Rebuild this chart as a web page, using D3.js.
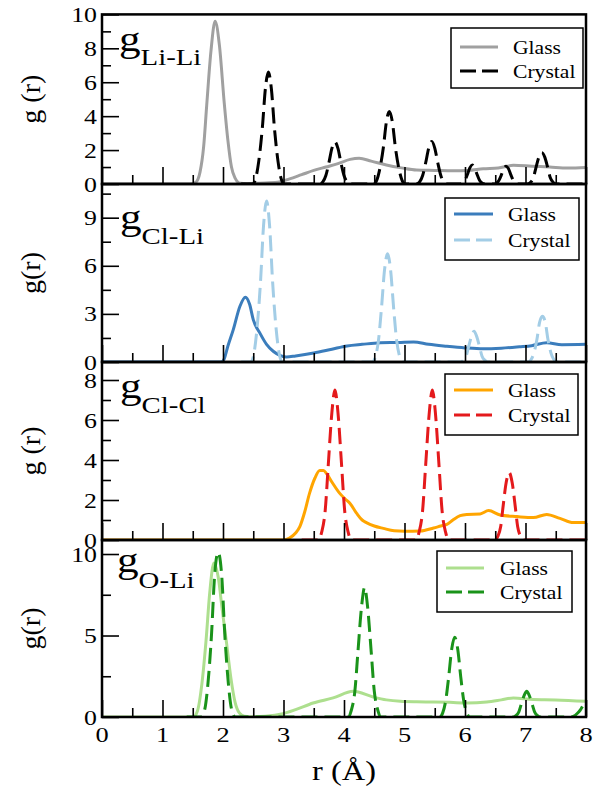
<!DOCTYPE html>
<html>
<head>
<meta charset="utf-8">
<script src="https://cdn.jsdelivr.net/npm/d3@7"></script>
<style>
  html, body { margin: 0; padding: 0; background: #fff; }
  svg text { font-family: "Liberation Serif", Tinos, "Times New Roman", Times, serif; fill: #000; }
</style>
</head>
<body>
<div id="chart-area"></div>
<script>
const WIDTH = 598;
const HEIGHT = 790;
const LEFT = 102;
const RIGHT = 586;
const SX = 1.2; // glyphs in the source are drawn a bit wide

// ---- data ----
const pairNames = ["Li-Li", "Cl-Li", "Cl-Cl", "O-Li"];
const yLabels = ["g (r)", "g(r)", "g (r)", "g(r)"];
const seriesNames = ["Glass", "Crystal"];
const xMajor = [0, 1, 2, 3, 4, 5, 6, 7, 8];
const xMinor = [0.5, 1.5, 2.5, 3.5, 4.5, 5.5, 6.5, 7.5];
const yMax = [10, 11.1, 8.9, 10.86];
const yMajor = [[0, 2, 4, 6, 8, 10], [0, 3, 6, 9], [0, 2, 4, 6, 8], [0, 5, 10]];
const yMinor = [[1, 3, 5, 7, 9], [1.5, 4.5, 7.5, 10.5], [1, 3, 5, 7], [2.5, 7.5]];

const liLiGlass = [[0, 0], [1.45, 0], [1.55, 0.1], [1.62, 0.7], [1.68, 2.2], [1.73, 4.6], [1.80, 7.8], [1.87, 9.6],
  [1.94, 8.2], [2.02, 4.8], [2.08, 2.6], [2.14, 1.0], [2.2, 0.35], [2.28, 0.05], [2.4, 0.02], [2.6, 0.05],
  [2.9, 0.1], [3.1, 0.3], [3.3, 0.55], [3.5, 0.8], [3.7, 1.0], [3.9, 1.2], [4.1, 1.45], [4.25, 1.52],
  [4.45, 1.35], [4.7, 1.12], [4.95, 0.95], [5.2, 0.82], [5.5, 0.8], [5.8, 0.78], [6.05, 0.8], [6.3, 0.9],
  [6.55, 0.95], [6.8, 1.1], [7.1, 1.05], [7.4, 1.0], [7.7, 0.95], [8.0, 0.98]];

const liLiCrystal = [[2.3, 0],
  [2.49, 0], [2.54, 0.33], [2.59, 1.32], [2.65, 3.3], [2.70, 5.6], [2.75, 6.6], [2.80, 5.6], [2.85, 3.3], [2.91, 1.32], [2.96, 0.33], [3.01, 0],
  [3.60, 0], [3.65, 0.12], [3.70, 0.5], [3.75, 1.24], [3.80, 2.1], [3.85, 2.48], [3.90, 2.1], [3.95, 1.24], [4.00, 0.5], [4.05, 0.12], [4.10, 0],
  [4.49, 0], [4.54, 0.21], [4.59, 0.86], [4.65, 2.14], [4.70, 3.64], [4.75, 4.28], [4.80, 3.64], [4.85, 2.14], [4.91, 0.86], [4.96, 0.21], [5.01, 0],
  [5.20, 0], [5.25, 0.12], [5.30, 0.5], [5.35, 1.25], [5.40, 2.12], [5.45, 2.5], [5.50, 2.12], [5.55, 1.25], [5.60, 0.5], [5.65, 0.12], [5.70, 0],
  [5.92, 0], [5.96, 0.06], [6.00, 0.22], [6.04, 0.56], [6.08, 0.95], [6.12, 1.12], [6.16, 0.95], [6.20, 0.56], [6.24, 0.22], [6.28, 0.06], [6.32, 0],
  [6.48, 0], [6.52, 0.05], [6.56, 0.21], [6.60, 0.52], [6.64, 0.89], [6.68, 1.05], [6.72, 0.89], [6.76, 0.52], [6.80, 0.21], [6.84, 0.05], [6.88, 0],
  [7.03, 0], [7.08, 0.09], [7.13, 0.37], [7.17, 0.92], [7.22, 1.57], [7.27, 1.85], [7.32, 1.57], [7.37, 0.92], [7.41, 0.37], [7.46, 0.09], [7.51, 0],
  [8.0, 0]];

const clLiGlass = [[0, 0], [1.97, 0], [2.02, 0.2], [2.08, 0.98], [2.17, 2.02], [2.28, 3.48], [2.37, 4.04], [2.44, 3.6],
  [2.5, 2.64], [2.61, 1.8], [2.72, 1.1], [2.83, 0.67], [2.95, 0.4], [3.05, 0.31], [3.2, 0.38], [3.5, 0.56],
  [3.8, 0.8], [4.05, 1.0], [4.3, 1.1], [4.6, 1.2], [4.9, 1.22], [5.15, 1.25], [5.4, 1.1], [5.7, 0.98],
  [6.0, 0.88], [6.3, 0.82], [6.6, 0.86], [6.9, 0.95], [7.1, 1.02], [7.35, 1.2], [7.6, 1.08], [8.0, 1.1]];

const clLiCrystal = [[2.3, 0],
  [2.46, 0], [2.51, 0.5], [2.56, 2.0], [2.62, 5.0], [2.67, 8.5], [2.72, 10.04], [2.77, 8.5], [2.82, 5.0], [2.88, 2.0], [2.93, 0.5], [2.98, 0],
  [4.47, 0], [4.52, 0.34], [4.57, 1.35], [4.62, 3.38], [4.67, 5.74], [4.72, 6.75], [4.77, 5.74], [4.82, 3.38], [4.87, 1.35], [4.92, 0.34], [4.97, 0],
  [5.93, 0], [5.97, 0.1], [6.02, 0.38], [6.06, 0.96], [6.11, 1.63], [6.15, 1.92], [6.19, 1.63], [6.24, 0.96], [6.28, 0.38], [6.33, 0.1], [6.37, 0],
  [7.05, 0], [7.09, 0.14], [7.14, 0.57], [7.19, 1.43], [7.23, 2.42], [7.28, 2.85], [7.33, 2.42], [7.37, 1.43], [7.42, 0.57], [7.47, 0.14], [7.51, 0],
  [8.0, 0]];

const clClGlass = [[0, 0], [3.0, 0], [3.1, 0.1], [3.2, 0.35], [3.27, 0.67], [3.35, 1.4], [3.43, 2.33], [3.52, 3.1],
  [3.6, 3.47], [3.66, 3.47], [3.71, 3.33], [3.8, 2.9], [3.93, 2.33], [4.02, 2.05], [4.1, 1.83], [4.21, 1.33],
  [4.3, 1.0], [4.37, 0.87], [4.5, 0.7], [4.65, 0.58], [4.83, 0.46], [5.0, 0.44], [5.26, 0.45], [5.48, 0.6],
  [5.6, 0.7], [5.7, 0.78], [5.8, 1.0], [5.92, 1.22], [6.03, 1.28], [6.25, 1.3], [6.39, 1.47], [6.58, 1.25],
  [6.86, 1.17], [7.13, 1.12], [7.35, 1.28], [7.57, 1.08], [7.79, 0.87], [8.0, 0.88]];

const clClCrystal = [[3.3, 0],
  [3.58, 0], [3.63, 0.38], [3.69, 1.5], [3.74, 3.75], [3.80, 6.38], [3.85, 7.5], [3.90, 6.38], [3.96, 3.75], [4.01, 1.5], [4.07, 0.38], [4.12, 0],
  [5.19, 0], [5.24, 0.38], [5.30, 1.5], [5.35, 3.75], [5.41, 6.38], [5.46, 7.5], [5.51, 6.38], [5.57, 3.75], [5.62, 1.5], [5.68, 0.38], [5.73, 0],
  [6.49, 0], [6.54, 0.17], [6.59, 0.67], [6.63, 1.69], [6.68, 2.86], [6.73, 3.37], [6.78, 2.86], [6.83, 1.69], [6.87, 0.67], [6.92, 0.17], [6.97, 0],
  [8.0, 0]];

const oLiGlass = [[0, 0], [1.51, 0], [1.58, 0.4], [1.65, 2.0], [1.72, 4.7], [1.78, 7.6], [1.85, 9.45], [1.92, 8.6],
  [1.99, 6.5], [2.06, 4.5], [2.13, 2.4], [2.2, 0.9], [2.27, 0.25], [2.35, 0.05], [2.45, 0.02], [2.7, 0.05],
  [2.99, 0.2], [3.2, 0.45], [3.49, 0.86], [3.82, 1.17], [4.15, 1.58], [4.48, 1.23], [4.7, 1.05], [4.93, 0.96],
  [5.2, 0.93], [5.48, 0.92], [5.75, 0.9], [6.03, 0.86], [6.36, 0.92], [6.6, 1.05], [6.8, 1.17], [7.13, 1.07],
  [7.5, 1.05], [8.0, 0.96]];

const oLiCrystal = [[1.4, 0],
  [1.64, 0], [1.70, 0.5], [1.75, 2.0], [1.81, 5.05], [1.86, 8.6], [1.92, 10.1], [1.98, 8.6], [2.03, 5.05], [2.09, 2.0], [2.14, 0.5], [2.20, 0],
  [4.07, 0], [4.12, 0.4], [4.18, 1.6], [4.23, 3.98], [4.29, 6.76], [4.34, 7.95], [4.39, 6.76], [4.45, 3.98], [4.50, 1.6], [4.56, 0.4], [4.61, 0],
  [5.58, 0], [5.63, 0.24], [5.68, 0.98], [5.73, 2.45], [5.78, 4.16], [5.83, 4.89], [5.88, 4.16], [5.93, 2.45], [5.98, 0.98], [6.03, 0.24], [6.08, 0],
  [6.80, 0], [6.84, 0.08], [6.89, 0.32], [6.93, 0.79], [6.98, 1.34], [7.02, 1.58], [7.06, 1.34], [7.11, 0.79], [7.15, 0.32], [7.20, 0.08], [7.24, 0],
  [7.75, 0], [7.8, 0.05], [7.85, 0.2], [7.9, 0.4], [7.95, 0.7], [8.0, 1.0]];

const glassSeries = [liLiGlass, clLiGlass, clClGlass, oLiGlass];
const crystalSeries = [liLiCrystal, clLiCrystal, clClCrystal, oLiCrystal];

// ---- layout / style ----
const panelBox = [
  { top: 14.4, bottom: 184 },
  { top: 184, bottom: 362 },
  { top: 362, bottom: 540 },
  { top: 540, bottom: 717 }
];
const glassColor = ["#a0a0a0", "#3b7dbc", "#ffa500", "#addf8e"];
const crystalColor = ["#000000", "#a3cde6", "#e41a1c", "#1a931a"];
// title: g position and subscript offset
const titlePos = [
  { x: 119, y: 51, dy: 14 },
  { x: 120, y: 229, dy: 15 },
  { x: 120, y: 398, dy: 15 },
  { x: 117, y: 572, dy: 16 }
];
const legendPos = [
  { x0: 451, y0: 28, x1: 583, y1: 88, r1: 47, r2: 71, l0: 460, l1: 498, tx: 513 },
  { x0: 445, y0: 198, x1: 579, y1: 260, r1: 214, r2: 240, l0: 454, l1: 493, tx: 508 },
  { x0: 445, y0: 374, x1: 578, y1: 435, r1: 390, r2: 415, l0: 454, l1: 493, tx: 508 },
  { x0: 437, y0: 551, x1: 572, y1: 612, r1: 568, r2: 592, l0: 446, l1: 484, tx: 500 }
];

const svg = d3.select("#chart-area").append("svg")
  .attr("width", WIDTH)
  .attr("height", HEIGHT);

const x = d3.scaleLinear().domain([0, 8]).range([LEFT, RIGHT]);

const text = (sel, px, py, s, size, anchor) => sel.append("text")
  .attr("transform", `translate(${px},${py}) scale(${SX},1)`)
  .attr("font-size", size)
  .attr("text-anchor", anchor)
  .text(s);

const defs = svg.append("defs");

panelBox.forEach((box, i) => {
  const g = svg.append("g");
  const y = d3.scaleLinear().domain([0, yMax[i]]).range([box.bottom, box.top]);

  defs.append("clipPath").attr("id", `clip${i}`)
    .append("rect")
    .attr("x", LEFT).attr("y", box.top)
    .attr("width", RIGHT - LEFT).attr("height", box.bottom - box.top);

  // curves
  const line = d3.line()
    .x(d => x(d[0]))
    .y(d => y(d[1]))
    .curve(d3.curveMonotoneX);

  const plot = g.append("g").attr("clip-path", `url(#clip${i})`);
  plot.append("path")
    .attr("d", line(glassSeries[i]))
    .attr("fill", "none")
    .attr("stroke", glassColor[i])
    .attr("stroke-width", 3)
    .attr("stroke-linejoin", "round");
  plot.append("path")
    .attr("d", line(crystalSeries[i]))
    .attr("fill", "none")
    .attr("stroke", crystalColor[i])
    .attr("stroke-width", 3)
    .attr("stroke-dasharray", "16,7");

  // ticks (inward)
  const axes = [
    [d3.axisLeft(y).tickValues(yMajor[i]).tickSize(-17), `translate(${LEFT},0)`],
    [d3.axisLeft(y).tickValues(yMinor[i]).tickSize(-9), `translate(${LEFT},0)`],
    [d3.axisBottom(x).tickValues(xMajor).tickSize(-17), `translate(0,${box.bottom})`],
    [d3.axisBottom(x).tickValues(xMinor).tickSize(-9), `translate(0,${box.bottom})`]
  ];
  axes.forEach(([ax, tr]) => {
    const a = g.append("g")
      .attr("transform", tr)
      .call(ax.tickFormat("").tickSizeOuter(0));
    a.select(".domain").remove();
    a.selectAll(".tick line").attr("stroke", "#000").attr("stroke-width", 1.6);
  });

  // frame
  g.append("rect")
    .attr("x", LEFT).attr("y", box.top)
    .attr("width", RIGHT - LEFT).attr("height", box.bottom - box.top)
    .attr("fill", "none")
    .attr("stroke", "#000")
    .attr("stroke-width", 2.5);

  // y tick labels
  yMajor[i].forEach(v => {
    text(g, 97, y(v) + 7.5, String(v), 21.5, "end");
  });

  // y label
  g.append("text")
    .attr("transform", `translate(40,${(box.top + box.bottom) / 2}) rotate(-90)`)
    .attr("font-size", 28)
    .attr("text-anchor", "middle")
    .text(yLabels[i]);

  // panel title g_{pair}
  const tp = titlePos[i];
  const t = g.append("text")
    .attr("transform", `translate(${tp.x},${tp.y}) scale(${SX},1)`);
  t.append("tspan").attr("font-size", 36).text("g");
  t.append("tspan").attr("font-size", 24).attr("dy", tp.dy).text(pairNames[i]);

  // legend
  const lp = legendPos[i];
  const lg = g.append("g");
  lg.append("rect")
    .attr("x", lp.x0).attr("y", lp.y0)
    .attr("width", lp.x1 - lp.x0).attr("height", lp.y1 - lp.y0)
    .attr("fill", "#fff")
    .attr("stroke", "#000")
    .attr("stroke-width", 1.5);
  [lp.r1, lp.r2].forEach((ry, k) => {
    lg.append("line")
      .attr("x1", lp.l0).attr("x2", lp.l1)
      .attr("y1", ry).attr("y2", ry)
      .attr("stroke", k === 0 ? glassColor[i] : crystalColor[i])
      .attr("stroke-width", 3)
      .attr("stroke-dasharray", k === 0 ? null : "16,6");
    text(lg, lp.tx, ry + 6.5, seriesNames[k], 18, "start");
  });

  // x tick labels on the bottom panel only
  if (i === panelBox.length - 1) {
    xMajor.forEach(v => {
      text(g, x(v), box.bottom + 25, String(v), 22, "middle");
    });
    text(g, x(4), 780, "r (\u00C5)", 27, "middle");
  }
});
</script>
</body>
</html>
